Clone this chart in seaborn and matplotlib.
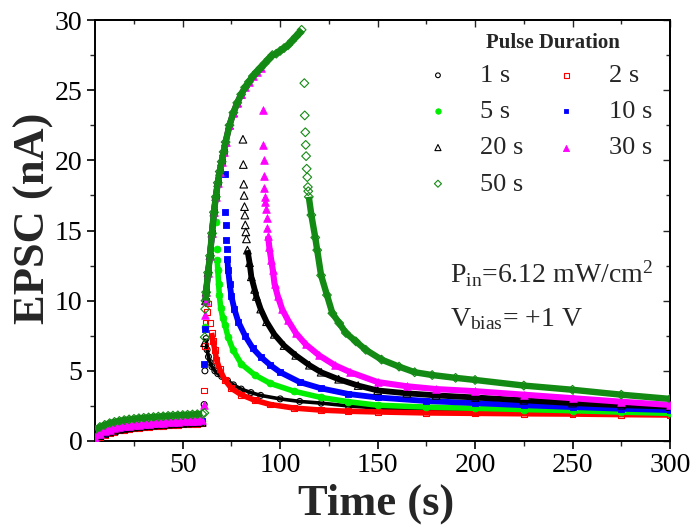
import matplotlib
matplotlib.use("Agg")
import matplotlib.pyplot as plt
import pandas as pd
import seaborn as sns

# ---------------- data ----------------
pulse_labels = ["1 s", "2 s", "5 s", "10 s", "20 s", "30 s", "50 s"]
pulse_seconds = [1, 2, 5, 10, 20, 30, 50]
light_on = 61.0

# dark phase (before the light pulse)
t_dark = [5, 7.5, 10, 12.5, 15, 17.5, 20, 22.5, 25, 27.5, 30, 32.5, 35, 37.5,
          40, 42.5, 45, 47.5, 50, 52.5, 55, 57.5, 60]
dark_1s = [0.10, 0.35, 0.50, 0.62, 0.72, 0.80, 0.86, 0.92, 0.96, 1.00, 1.04, 1.07,
           1.10, 1.12, 1.15, 1.17, 1.19, 1.21, 1.23, 1.25, 1.27, 1.28, 1.30]
dark_2s = [0.05, 0.30, 0.45, 0.57, 0.67, 0.75, 0.81, 0.87, 0.91, 0.95, 0.99, 1.02,
           1.05, 1.07, 1.10, 1.12, 1.14, 1.16, 1.18, 1.20, 1.22, 1.23, 1.25]
dark_5s = [0.22, 0.47, 0.62, 0.74, 0.84, 0.92, 0.98, 1.04, 1.08, 1.12, 1.16, 1.19,
           1.22, 1.24, 1.27, 1.29, 1.31, 1.33, 1.35, 1.37, 1.39, 1.40, 1.42]
dark_10s = [0.18, 0.45, 0.60, 0.72, 0.82, 0.90, 0.96, 1.02, 1.06, 1.10, 1.14, 1.17,
            1.20, 1.22, 1.25, 1.27, 1.29, 1.31, 1.33, 1.35, 1.37, 1.38, 1.40]
dark_20s = [0.12, 0.38, 0.53, 0.65, 0.75, 0.83, 0.89, 0.95, 0.99, 1.03, 1.07, 1.10,
            1.13, 1.15, 1.18, 1.20, 1.22, 1.24, 1.26, 1.28, 1.30, 1.31, 1.33]
dark_30s = [0.20, 0.50, 0.68, 0.80, 0.90, 0.98, 1.04, 1.09, 1.13, 1.17, 1.20, 1.23,
            1.26, 1.29, 1.31, 1.34, 1.36, 1.38, 1.40, 1.42, 1.44, 1.46, 1.48]
dark_50s = [0.80, 1.00, 1.15, 1.27, 1.36, 1.43, 1.49, 1.54, 1.58, 1.62, 1.65, 1.68,
            1.71, 1.74, 1.76, 1.79, 1.81, 1.83, 1.85, 1.87, 1.89, 1.91, 1.93]

# common rise under illumination (envelope)
t_env = [61.7, 62, 63, 64, 65, 66, 67, 68, 69, 70, 71, 72, 74, 76, 78, 80, 82, 84,
         86, 88, 90, 92, 94, 96, 98, 100, 102, 104, 106, 108, 110, 111]
v_env = [10.0, 10.6, 12.0, 13.2, 14.8, 16.3, 17.4, 18.4, 19.2, 19.9, 20.6, 21.3,
         22.5, 23.4, 24.1, 24.7, 25.2, 25.6, 26.0, 26.3, 26.6, 26.9, 27.2, 27.5,
         27.6, 27.8, 28.0, 28.2, 28.5, 28.8, 29.1, 29.3]

# isolated points (light-on jump and first points after light-off)
t_spk_1s = [61.0, 61.4]
v_spk_1s = [2.6, 5.0]
t_spk_2s = [61.0, 61.3, 61.7, 62.3, 63.0, 63.9]
v_spk_2s = [3.6, 6.8, 8.4, 9.2, 9.8, 8.4]
t_spk_5s = [61.3, 66.8, 67.3, 67.5]
v_spk_5s = [8.1, 17.3, 15.6, 13.7]
t_spk_10s = [61.0, 61.3, 71.6, 71.8, 72.0, 72.3, 72.6]
v_spk_10s = [5.5, 8.0, 19.0, 16.3, 15.4, 14.3, 13.7]
t_spk_20s = [61.2, 80.9, 81.1, 81.3, 81.5, 81.7, 81.9, 82.1, 82.4, 82.7]
v_spk_20s = [7.0, 21.5, 19.7, 18.3, 17.5, 16.7, 16.1, 15.4, 14.9, 14.4]
t_spk_30s = [61.0, 61.4, 91.1, 91.3, 91.5, 91.7, 91.9, 92.1, 92.3, 92.6, 93.0, 93.4]
v_spk_30s = [2.6, 9.0, 23.6, 21.1, 20.0, 18.9, 18.0, 17.4, 17.0, 16.5, 15.9, 15.2]
t_spk_50s = [61.1, 61.3, 61.5, 112.4, 112.6, 112.9, 113.1, 113.3, 113.6, 113.9,
             114.2, 114.4]
v_spk_50s = [2.0, 7.4, 9.4, 25.5, 23.2, 22.0, 21.1, 20.3, 19.4, 18.8, 18.1, 17.8]

# continuous decay after light-off
t_dec_1s = [62.0, 62.5, 63.2, 64, 65, 66.5, 68, 70, 73, 76, 80, 85, 90, 100, 110,
            121, 135, 150, 175, 200, 225, 250, 275, 300]
v_dec_1s = [7.3, 6.5, 6.0, 5.6, 5.3, 5.0, 4.8, 4.6, 4.3, 4.0, 3.7, 3.45, 3.25, 3.0,
            2.82, 2.7, 2.5, 2.35, 2.2, 2.1, 2.05, 2.0, 1.97, 1.95]
t_dec_2s = [64.8, 65.6, 66.5, 67.3, 69, 71.6, 75, 80, 87, 95, 107, 121, 135, 150,
            175, 200, 225, 250, 275, 300]
v_dec_2s = [7.7, 7.1, 6.5, 5.8, 5.1, 4.35, 3.75, 3.3, 2.9, 2.6, 2.35, 2.2, 2.12,
            2.07, 2.0, 1.97, 1.94, 1.92, 1.88, 1.85]
t_dec_5s = [67.7, 68, 68.4, 68.8, 69.5, 70.5, 71.6, 73.3, 75.8, 80, 87, 95, 107,
            121, 135, 150, 175, 200, 225, 250, 275, 300]
v_dec_5s = [12.9, 12.2, 11.2, 10.4, 9.5, 8.8, 8.3, 7.4, 6.5, 5.5, 4.7, 4.1, 3.55,
            3.1, 2.8, 2.55, 2.42, 2.33, 2.24, 2.16, 2.06, 1.97]
t_dec_10s = [72.9, 73.3, 74.1, 75, 76.5, 78.5, 82, 86, 90, 95, 100, 110, 121, 135,
             150, 175, 200, 225, 250, 275, 300]
v_dec_10s = [13.0, 12.2, 11.2, 10.3, 9.4, 8.5, 7.5, 6.6, 6.0, 5.4, 4.9, 4.2, 3.75,
             3.35, 3.1, 2.85, 2.7, 2.55, 2.42, 2.3, 2.2]
t_dec_20s = [83.2, 84.3, 85.2, 86.9, 87.8, 90, 93, 97, 102, 108, 115, 121, 130, 140,
             150, 165, 180, 200, 225, 250, 275, 300]
v_dec_20s = [13.6, 12.7, 11.7, 10.8, 10.3, 9.4, 8.5, 7.6, 6.8, 6.1, 5.4, 4.9, 4.4,
             3.95, 3.6, 3.4, 3.25, 3.1, 2.9, 2.7, 2.55, 2.45]
t_dec_30s = [93.8, 94.4, 95.4, 96.2, 97.1, 98.8, 101, 104, 108, 113, 120, 128, 136,
             150, 165, 180, 200, 225, 250, 275, 300]
v_dec_30s = [14.6, 13.85, 12.9, 12.2, 11.2, 10.3, 9.4, 8.6, 7.7, 6.9, 6.1, 5.4, 4.9,
             4.2, 3.9, 3.7, 3.55, 3.3, 3.05, 2.8, 2.57]
t_dec_50s = [114.7, 116, 118, 119, 121, 124, 126.8, 130.3, 133.7, 138.8, 143.9, 152,
             161, 169, 178, 190, 200, 225, 250, 275, 300]
v_dec_50s = [17.4, 16.1, 14.5, 13.6, 11.8, 10.4, 9.1, 8.4, 7.7, 7.1, 6.5, 5.8, 5.3,
             4.9, 4.7, 4.5, 4.35, 3.95, 3.65, 3.3, 3.0]

dark_vals = [dark_1s, dark_2s, dark_5s, dark_10s, dark_20s, dark_30s, dark_50s]
spk_t = [t_spk_1s, t_spk_2s, t_spk_5s, t_spk_10s, t_spk_20s, t_spk_30s, t_spk_50s]
spk_v = [v_spk_1s, v_spk_2s, v_spk_5s, v_spk_10s, v_spk_20s, v_spk_30s, v_spk_50s]
dec_t = [t_dec_1s, t_dec_2s, t_dec_5s, t_dec_10s, t_dec_20s, t_dec_30s, t_dec_50s]
dec_v = [v_dec_1s, v_dec_2s, v_dec_5s, v_dec_10s, v_dec_20s, v_dec_30s, v_dec_50s]

# ---------------- table ----------------
rows = []
for i, lab in enumerate(pulse_labels):
    for t, v in zip(t_dark, dark_vals[i]):
        rows.append((lab, "dark", t, v))
    if pulse_seconds[i] >= 5:
        for t, v in zip(t_env, v_env):
            if t <= light_on + pulse_seconds[i]:
                rows.append((lab, "rise", t, v))
    for t, v in zip(spk_t[i], spk_v[i]):
        rows.append((lab, "spike", t, v))
    for t, v in zip(dec_t[i], dec_v[i]):
        rows.append((lab, "decay", t, v))
df = pd.DataFrame(rows, columns=["Pulse", "part", "Time", "EPSC"])

# ---------------- style ----------------
sns.set_theme(style="ticks")
plt.rcParams["font.family"] = ["Liberation Serif", "DejaVu Serif"]
plt.rcParams["mathtext.fontset"] = "custom"
plt.rcParams["mathtext.rm"] = "Liberation Serif"
plt.rcParams["mathtext.it"] = "Liberation Serif:italic"
plt.rcParams["mathtext.bf"] = "Liberation Serif:bold"

styles = {
    "1 s":  dict(marker="o", color="#000000", filled=False, s=18, lw=2.6),
    "2 s":  dict(marker="s", color="#FF0000", filled=False, s=18, lw=4.0),
    "5 s":  dict(marker="o", color="#00EE00", filled=True, s=24, lw=4.0),
    "10 s": dict(marker="s", color="#0000FF", filled=True, s=18, lw=4.2),
    "20 s": dict(marker="^", color="#000000", filled=False, s=30, lw=4.2),
    "30 s": dict(marker="^", color="#FF00FF", filled=True, s=30, lw=4.4),
    "50 s": dict(marker="D", color="#138A13", filled=False, s=20, lw=4.6),
}

W, H = 694, 528
fig = plt.figure(figsize=(W / 100, H / 100), dpi=100)
ax = fig.add_axes([95 / W, 87 / H, 575 / W, 421 / H])

for i, lab in enumerate(pulse_labels):
    st = styles[lab]
    sub = df[df["Pulse"] == lab]
    band = sub[sub["part"] != "spike"]
    sns.lineplot(data=band, x="Time", y="EPSC", units="part", estimator=None,
                 sort=False, color=st["color"], lw=st["lw"], legend=False,
                 ax=ax, zorder=2 + 2 * i, solid_capstyle="butt")
    if st["filled"]:
        sns.scatterplot(data=sub, x="Time", y="EPSC", marker=st["marker"], s=st["s"],
                        color=st["color"], edgecolor=st["color"], linewidth=0.6,
                        ax=ax, zorder=3 + 2 * i, label=lab)
    else:
        sns.scatterplot(data=sub, x="Time", y="EPSC", marker=st["marker"], s=st["s"],
                        color=st["color"], facecolor="none", edgecolor=st["color"],
                        linewidth=0.8, ax=ax, zorder=3 + 2 * i, label=lab)

ax.set_xlim(5, 300)
ax.set_ylim(0, 30)
ax.set_xticks([50, 100, 150, 200, 250, 300])
ax.set_xticks([25, 75, 125, 175, 225, 275], minor=True)
ax.set_yticks([0, 5, 10, 15, 20, 25, 30])
ax.set_yticks([2.5, 7.5, 12.5, 17.5, 22.5, 27.5], minor=True)
ax.tick_params(which="major", direction="out", length=6, width=1.2,
               labelsize=20, colors="black", pad=3)
ax.tick_params(which="minor", direction="out", length=3.5, width=1.0)
for sp in ax.spines.values():
    sp.set_linewidth(1.4)
    sp.set_color("black")

top = ax.secondary_xaxis("top")
top.set_xticks([50, 100, 150, 200, 250, 300])
top.set_xticks([25, 75, 125, 175, 225, 275], minor=True)
top.tick_params(which="both", direction="in", labeltop=False, width=1.0)
top.tick_params(which="major", length=5)
top.tick_params(which="minor", length=3)
right = ax.secondary_yaxis("right")
right.set_yticks([0, 5, 10, 15, 20, 25, 30])
right.set_yticks([2.5, 7.5, 12.5, 17.5, 22.5, 27.5], minor=True)
right.tick_params(which="both", direction="in", labelright=False, width=1.0)
right.tick_params(which="major", length=5)
right.tick_params(which="minor", length=3)

ax.set_xlabel("Time (s)", fontsize=32, fontweight="bold")
ax.set_ylabel("EPSC (nA)", fontsize=32, fontweight="bold")
ax.xaxis.set_label_coords((376 - 95) / 575, -(524 - 441) / 421)
ax.xaxis.label.set_va("bottom")
ax.yaxis.set_label_coords(-(95 - 14) / 575, (441 - 218) / 421)
ax.yaxis.label.set_va("top")

handles, labels = ax.get_legend_handles_labels()
hmap = dict(zip(labels, handles))
order = ["1 s", "5 s", "20 s", "50 s", "2 s", "10 s", "30 s"]
leg = ax.legend([hmap[k] for k in order], order, ncol=2,
                frameon=False, fontsize=19,
                loc="upper left", bbox_to_anchor=(401 / W, 1 - 40 / H),
                bbox_transform=fig.transFigure, handlelength=1.0,
                handletextpad=1.1, columnspacing=1.12, labelspacing=0.48,
                borderpad=0.4, scatterpoints=1, markerscale=0.8)
fig.text(553 / W, 1 - 43 / H, "Pulse Duration", fontsize=15, fontweight="bold",
         ha="center", va="center")

fig.text(450 / W, 1 - 283 / H, r"$\mathregular{P_{in}}$=6.12 mW/cm$\mathregular{^2}$",
         fontsize=20, va="baseline", ha="left")
fig.text(450 / W, 1 - 326 / H, r"$\mathregular{V_{bias}}$= +1 V",
         fontsize=20, va="baseline", ha="left")

fig.savefig("out.png", dpi=100)
